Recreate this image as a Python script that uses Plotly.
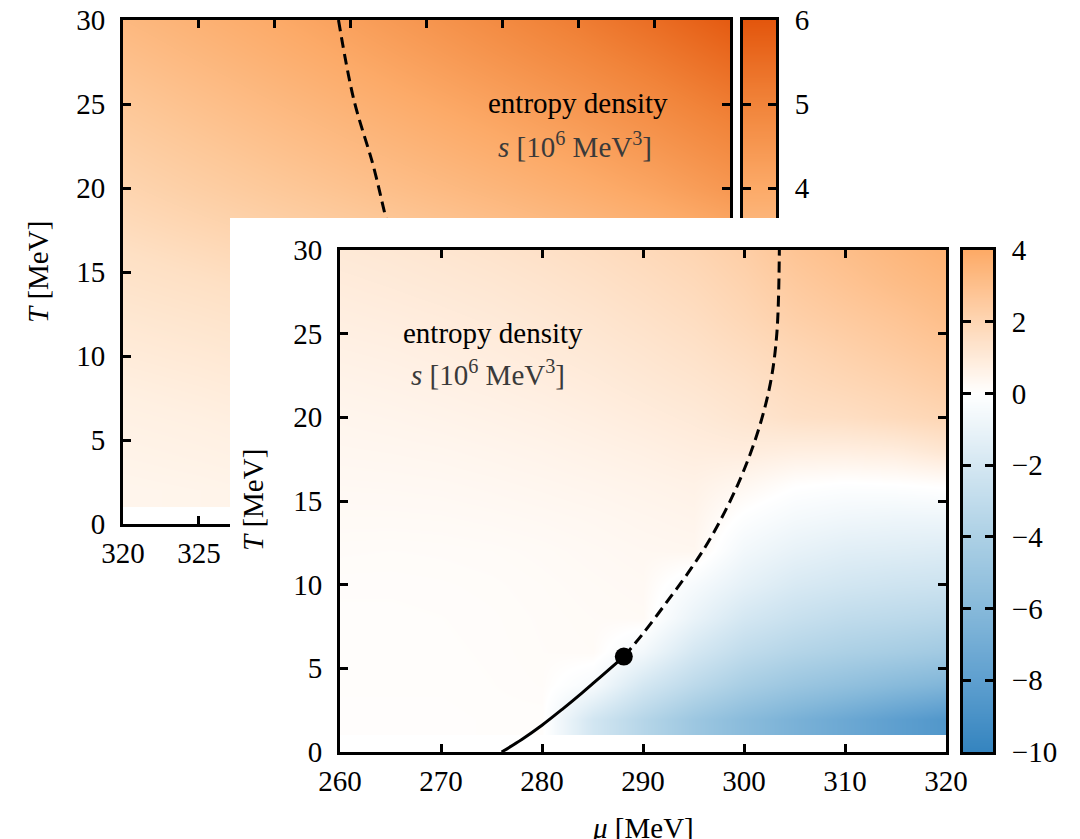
import numpy as np
import plotly.graph_objects as go

W, H = 1080, 839
SERIF = "Liberation Serif"
FS = 29

# ---- shared temperature grid (MeV) ----
T_grid = [2, 4, 6, 8, 10, 12, 14, 16, 18, 20, 22, 24, 26, 28, 30]

# ---- back panel: entropy density s [10^6 MeV^3], mu = 320..360 MeV ----
mu_back = [320, 325, 330, 335, 340, 345, 350, 355, 360]
s_back = [
    [0.45, 0.55, 0.70, 0.85, 1.00, 1.20, 1.40, 1.60, 1.85],
    [0.65, 0.78, 0.93, 1.08, 1.25, 1.44, 1.65, 1.88, 2.12],
    [0.85, 0.98, 1.14, 1.30, 1.48, 1.68, 1.90, 2.14, 2.40],
    [1.05, 1.19, 1.35, 1.52, 1.71, 1.92, 2.15, 2.40, 2.67],
    [1.28, 1.42, 1.59, 1.77, 1.96, 2.17, 2.40, 2.65, 2.93],
    [1.50, 1.66, 1.84, 2.03, 2.23, 2.44, 2.67, 2.92, 3.20],
    [1.74, 1.91, 2.10, 2.30, 2.50, 2.72, 2.95, 3.20, 3.48],
    [1.97, 2.17, 2.38, 2.59, 2.80, 3.02, 3.25, 3.50, 3.78],
    [2.22, 2.44, 2.66, 2.88, 3.10, 3.32, 3.56, 3.82, 4.12],
    [2.45, 2.70, 2.94, 3.17, 3.40, 3.63, 3.88, 4.16, 4.50],
    [2.66, 2.92, 3.17, 3.41, 3.65, 3.89, 4.15, 4.44, 4.78],
    [2.87, 3.13, 3.38, 3.63, 3.88, 4.13, 4.40, 4.70, 5.04],
    [3.08, 3.34, 3.60, 3.86, 4.12, 4.38, 4.66, 4.97, 5.32],
    [3.29, 3.55, 3.81, 4.07, 4.34, 4.62, 4.91, 5.23, 5.60],
    [3.50, 3.75, 4.00, 4.27, 4.55, 4.84, 5.15, 5.50, 5.90],
]
back_cross_mu = [334.2, 335.2, 336.5, 337.3, 338.2]
back_cross_T = [30.0, 25.3, 21.3, 18.3, 15.0]
back_range = [0, 6]
back_ticks_x = [320, 325, 330, 335, 340, 345, 350, 355, 360]
back_ticks_cb = [0, 1, 2, 3, 4, 5, 6]

# ---- front panel: s [10^6 MeV^3], mu = 260..320 MeV ----
mu_front = [260, 265, 270, 275, 280, 285, 290, 295, 300, 305, 310, 315, 320]
s_front = [
    [0.08, 0.08, 0.08, 0.10, 0.10, -2.1, -3.5, -4.8, -5.8, -6.6, -7.3, -8.0, -8.6],
    [0.10, 0.10, 0.10, 0.12, 0.15, -0.4, -2.0, -3.2, -4.2, -4.9, -5.4, -5.9, -6.3],
    [0.10, 0.10, 0.11, 0.13, 0.17, 0.20, -0.6, -2.0, -3.0, -3.6, -4.0, -4.3, -4.6],
    [0.11, 0.11, 0.12, 0.14, 0.18, 0.22, 0.25, -1.0, -2.0, -2.6, -3.0, -3.2, -3.4],
    [0.13, 0.13, 0.14, 0.16, 0.20, 0.25, 0.30, -0.4, -1.2, -1.8, -2.1, -2.3, -2.4],
    [0.18, 0.17, 0.18, 0.20, 0.24, 0.30, 0.36, 0.40, -0.6, -1.1, -1.4, -1.5, -1.6],
    [0.25, 0.25, 0.26, 0.29, 0.33, 0.38, 0.45, 0.52, -0.1, -0.5, -0.7, -0.8, -0.8],
    [0.32, 0.33, 0.35, 0.39, 0.44, 0.50, 0.57, 0.65, 0.40, 0.05, -0.05, 0.0, 0.1],
    [0.40, 0.42, 0.45, 0.50, 0.56, 0.64, 0.73, 0.85, 0.90, 0.80, 0.80, 0.90, 1.2],
    [0.48, 0.52, 0.57, 0.63, 0.70, 0.80, 0.92, 1.05, 1.25, 1.50, 1.60, 1.80, 2.0],
    [0.58, 0.63, 0.69, 0.76, 0.85, 0.96, 1.10, 1.25, 1.45, 1.75, 1.95, 2.15, 2.4],
    [0.70, 0.75, 0.82, 0.90, 1.00, 1.12, 1.27, 1.45, 1.70, 2.00, 2.25, 2.50, 2.75],
    [0.82, 0.88, 0.95, 1.04, 1.15, 1.28, 1.45, 1.65, 1.95, 2.30, 2.55, 2.80, 3.1],
    [0.95, 1.02, 1.10, 1.19, 1.31, 1.46, 1.64, 1.85, 2.15, 2.55, 2.85, 3.15, 3.4],
    [1.08, 1.15, 1.24, 1.35, 1.48, 1.64, 1.83, 2.05, 2.35, 2.80, 3.10, 3.40, 3.7],
]
# first-order transition line, critical end point, crossover line
first_order_mu = [276.0, 278.0, 280.0, 282.0, 284.0, 286.0, 288.1]
first_order_T = [0.0, 0.75, 1.6, 2.55, 3.55, 4.6, 5.7]
cep_mu = [288.1]
cep_T = [5.7]
crossover_mu = [288.1, 289.9, 292.4, 294.8, 296.9, 299.4, 301.3, 302.6, 303.25, 303.5]
crossover_T = [5.7, 7.0, 9.0, 11.0, 13.0, 16.0, 19.0, 22.0, 25.0, 30.0]
front_range = [-10, 4]
front_ticks_x = [260, 270, 280, 290, 300, 310, 320]
front_ticks_cb = [-10, -8, -6, -4, -2, 0, 2, 4]
T_ticks = [0, 5, 10, 15, 20, 25, 30]

# ---- colour scales ----
back_stops = [(0, "#fffaf5"), (1, "#fff0e2"), (2, "#fee0c4"), (3, "#fdc797"),
              (4, "#fcaa68"), (5, "#f1843a"), (6, "#e3560d")]
front_stops = [(-10, "#3484bf"), (-8, "#5e9fcf"), (-6, "#86b9da"), (-4, "#acd0e5"),
               (-2, "#d4e7f2"), (0, "#ffffff"), (2, "#fed6b4"), (4, "#fdaa66")]


def scale(stops, lo, hi):
    return [[(v - lo) / (hi - lo), c] for v, c in stops]


back_cs = scale(back_stops, *back_range)
front_cs = scale(front_stops, *front_range)


def px_x(x):
    return x / W


def px_y(y):
    return 1 - y / H


# panel geometry (pixels)
back_plot = dict(x=[px_x(123), px_x(730)], y=[px_y(524), px_y(20)])
back_cbar = dict(x=[px_x(743), px_x(776)], y=[px_y(524), px_y(20)])
cover = dict(x=[px_x(230), 1.0], y=[0.0, px_y(218)])
front_plot = dict(x=[px_x(340), px_x(946)], y=[px_y(752), px_y(250)])
front_cbar = dict(x=[px_x(963), px_x(993)], y=[px_y(752), px_y(250)])

fig = go.Figure()

# back panel
fig.add_trace(go.Heatmap(x=mu_back, y=T_grid, z=s_back, colorscale=back_cs,
                         zmin=back_range[0], zmax=back_range[1], zsmooth="best",
                         showscale=False, hoverinfo="skip", xaxis="x", yaxis="y"))
fig.add_trace(go.Scatter(x=back_cross_mu, y=back_cross_T, mode="lines",
                         line=dict(color="black", width=3, dash="11px,6px", shape="spline"),
                         hoverinfo="skip", xaxis="x", yaxis="y"))

# back colour bar
cb_back = np.linspace(back_range[0], back_range[1], 241)
fig.add_trace(go.Heatmap(x=[0], y=cb_back, z=[[v] for v in cb_back], colorscale=back_cs,
                         zmin=back_range[0], zmax=back_range[1], zsmooth="best",
                         showscale=False, hoverinfo="skip", xaxis="x2", yaxis="y2"))

# white sheet carrying the front figure
fig.add_trace(go.Scatter(x=[0, 1, 1, 0, 0], y=[0, 0, 1, 1, 0], mode="lines", fill="toself",
                         fillcolor="white", line=dict(width=0, color="white"),
                         hoverinfo="skip", xaxis="x3", yaxis="y3"))

# front panel
fig.add_trace(go.Heatmap(x=mu_front, y=T_grid, z=s_front, colorscale=front_cs,
                         zmin=front_range[0], zmax=front_range[1], zsmooth="best",
                         showscale=False, hoverinfo="skip", xaxis="x4", yaxis="y4"))
fig.add_trace(go.Scatter(x=crossover_mu, y=crossover_T, mode="lines",
                         line=dict(color="black", width=3, dash="11px,6px", shape="spline"),
                         hoverinfo="skip", xaxis="x4", yaxis="y4"))
fig.add_trace(go.Scatter(x=first_order_mu, y=first_order_T, mode="lines",
                         line=dict(color="black", width=3, shape="spline"),
                         hoverinfo="skip", xaxis="x4", yaxis="y4"))
fig.add_trace(go.Scatter(x=cep_mu, y=cep_T, mode="markers",
                         marker=dict(color="black", size=18),
                         hoverinfo="skip", xaxis="x4", yaxis="y4"))

# front colour bar
cb_front = np.linspace(front_range[0], front_range[1], 281)
fig.add_trace(go.Heatmap(x=[0], y=cb_front, z=[[v] for v in cb_front], colorscale=front_cs,
                         zmin=front_range[0], zmax=front_range[1], zsmooth="best",
                         showscale=False, hoverinfo="skip", xaxis="x5", yaxis="y5"))

tickfont = dict(family=SERIF, size=FS, color="black")
frame = dict(showline=True, linewidth=3, linecolor="black", showgrid=False,
             zeroline=False, ticks="inside", ticklen=8, tickwidth=2.5,
             tickcolor="black", mirror="ticks", tickfont=tickfont, fixedrange=True)
bare = dict(showline=True, linewidth=3, linecolor="black", mirror=True, showgrid=False,
            zeroline=False, ticks="", showticklabels=False, range=[-0.5, 0.5],
            fixedrange=True)
hidden = dict(visible=False, range=[0, 1], fixedrange=True)

fig.update_layout(
    width=W, height=H, margin=dict(l=0, r=0, t=0, b=0, autoexpand=False),
    paper_bgcolor="white", plot_bgcolor="white", showlegend=False,
    xaxis=dict(frame, domain=back_plot["x"], anchor="y", range=[320, 360],
               tickvals=back_ticks_x, ticklabelstandoff=1),
    yaxis=dict(frame, domain=back_plot["y"], anchor="x", range=[0, 30],
               tickvals=T_ticks, ticklabelstandoff=9),
    xaxis2=dict(bare, domain=back_cbar["x"], anchor="y2"),
    yaxis2=dict(frame, domain=back_cbar["y"], anchor="x2", side="right",
                range=back_range, tickvals=back_ticks_cb, ticklabelstandoff=10),
    xaxis3=dict(hidden, domain=cover["x"], anchor="y3"),
    yaxis3=dict(hidden, domain=cover["y"], anchor="x3"),
    xaxis4=dict(frame, domain=front_plot["x"], anchor="y4", range=[260, 320],
                tickvals=front_ticks_x, ticklabelstandoff=1),
    yaxis4=dict(frame, domain=front_plot["y"], anchor="x4", range=[0, 30],
                tickvals=T_ticks, ticklabelstandoff=9),
    xaxis5=dict(bare, domain=front_cbar["x"], anchor="y5"),
    yaxis5=dict(frame, domain=front_cbar["y"], anchor="x5", side="right",
                range=front_range, tickvals=front_ticks_cb, ticklabelstandoff=10),
)

labfont = dict(family=SERIF, size=FS, color="black")
notes = [
    dict(text="<i>T</i> [MeV]", x=px_x(38), y=px_y(272), textangle=-90),
    dict(text="<i>T</i> [MeV]", x=px_x(253), y=px_y(500), textangle=-90),
    dict(text="<i>μ</i> [MeV]", x=px_x(643), y=px_y(828)),
    dict(text="entropy density", x=px_x(578), y=px_y(103)),
    dict(text="<i>s</i> [10<sup>6</sup> MeV<sup>3</sup>]", x=px_x(575), y=px_y(145),
         color="#3a3a3a"),
    dict(text="entropy density", x=px_x(493), y=px_y(333)),
    dict(text="<i>s</i> [10<sup>6</sup> MeV<sup>3</sup>]", x=px_x(488), y=px_y(373),
         color="#3a3a3a"),
]
for n in notes:
    col = n.pop("color", "black")
    fig.add_annotation(xref="paper", yref="paper", showarrow=False,
                       xanchor="center", yanchor="middle",
                       font=dict(labfont, color=col), **n)

fig.write_html("out.html")
